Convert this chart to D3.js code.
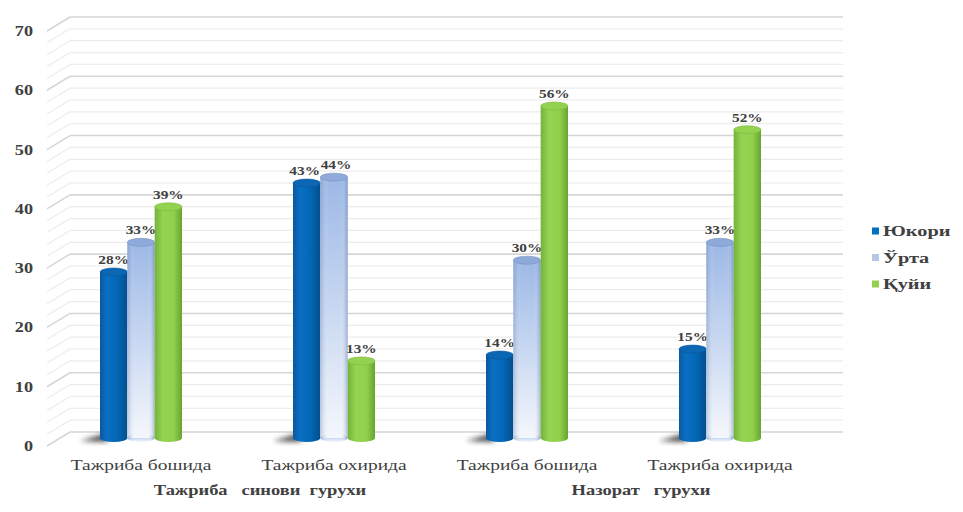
<!DOCTYPE html>
<html lang="uz"><head>
<meta charset="UTF-8">
<script src="https://cdn.jsdelivr.net/npm/d3@7"></script>
<title>Тажриба</title>
<style>
  body { margin: 0; background: #fff; }
  text { font-family: "Liberation Serif", "DejaVu Serif", serif; fill: #404040; }
</style>
</head>
<body>
<svg id="vis" width="963" height="512"></svg>
<script>
// данные
var categories = ["Тажриба бошида", "Тажриба охирида", "Тажриба бошида", "Тажриба охирида"];
var groups = ["Тажриба   синови  гурухи", "Назорат   гурухи"];
var seriesNames = ["Юкори", "Ўрта", "Қуйи"];
var high = [28, 43, 14, 15];
var middle = [33, 44, 30, 33];
var low = [39, 13, 56, 52];
var yTicks = [0, 10, 20, 30, 40, 50, 60, 70];

var values = [high, middle, low];

var svg = d3.select("#vis");
var defs = svg.append("defs");

// the picture's text is stretched sideways, so each label gets a scaleX
function wideText(parent, px, py, sx, anchor) {
  return parent.append("g")
    .attr("transform", "translate(" + px + "," + py + ") scale(" + sx + ",1)")
    .append("text").attr("text-anchor", anchor || "middle");
}

// depth of the 3d box
var dx = 23, dy = 14;

var y = d3.scaleLinear().domain([0, 70]).range([432, 17]);   // back wall
var yFront = d3.scaleLinear().domain([0, 70]).range([432 + dy, 17 + dy]);
var x = d3.scaleBand().domain(d3.range(categories.length)).range([44.5, 816.5]);
var xs = d3.scaleBand().domain(d3.range(seriesNames.length)).range([-41, 41]);

// gradients
function hGrad(id, stops) {
  var g = defs.append("linearGradient").attr("id", id).attr("x1", 0).attr("x2", 1).attr("y1", 0).attr("y2", 0);
  stops.forEach(function(s) { g.append("stop").attr("offset", s[0]).attr("stop-color", s[1]); });
}
hGrad("gBlue", [[0, "#0a58a0"], [0.25, "#0a6fc2"], [0.6, "#0468b8"], [1, "#034f8e"]]);
hGrad("gGreen", [[0, "#74b23a"], [0.3, "#94d452"], [0.7, "#90d04c"], [1, "#67a330"]]);
hGrad("gLightEdge", [[0, "rgba(90,120,170,0.35)"], [0.3, "rgba(255,255,255,0)"], [0.75, "rgba(255,255,255,0)"], [1, "rgba(80,110,160,0.45)"]]);
var lg = defs.append("linearGradient").attr("id", "gLight").attr("x1", 0).attr("x2", 0).attr("y1", 0).attr("y2", 1);
lg.append("stop").attr("offset", 0).attr("stop-color", "#9cb8e6");
lg.append("stop").attr("offset", 1).attr("stop-color", "#f4f7fc");
var blur = defs.append("filter").attr("id", "shadow").attr("x", "-50%").attr("y", "-50%").attr("width", "200%").attr("height", "200%");
blur.append("feGaussianBlur").attr("stdDeviation", 2.5);

var fills = ["url(#gBlue)", "url(#gLight)", "url(#gGreen)"];
var topFills = ["#0b66b4", "#8eaadb", "#93d24f"];

// grid
var grid = svg.append("g");
var gridVals = d3.range(0, 71, 2);
gridVals.forEach(function(v) {
  var major = v % 10 === 0;
  var c = major ? "#d6d6d6" : "#ececec";
  grid.append("line")
    .attr("x1", 70).attr("x2", 843).attr("y1", y(v)).attr("y2", y(v))
    .attr("stroke", c).attr("stroke-width", major ? 1.6 : 1.2);
  grid.append("line")
    .attr("x1", 70 - dx).attr("x2", 70).attr("y1", yFront(v)).attr("y2", y(v))
    .attr("stroke", c).attr("stroke-width", major ? 1.6 : 1.2);
});

// y axis labels at the front edge
var gy = svg.append("g");
yTicks.forEach(function(t) {
  wideText(gy, 33, yFront(t) + 5, 1.3, "end")
    .attr("font-size", 14).attr("font-weight", "bold").text(t);
});

// bars
var ry = 4;
var base = y(0) + dy / 2 - 1;
var gBars = svg.append("g");
categories.forEach(function(c, i) {
  var cx = x(i) + x.bandwidth() / 2;
  var w = xs.bandwidth();
  // shadow at base, left of the first bar
  gBars.append("path")
    .attr("d", "M" + (cx + xs(0) - 20) + "," + (base + 3) +
               " L" + (cx + xs(0) + 4) + "," + (base - 4) +
               " L" + (cx + xs(0) + 8) + "," + (base + 4) + " Z")
    .attr("fill", "#222").attr("opacity", 0.8)
    .attr("filter", "url(#shadow)");
  seriesNames.forEach(function(s, j) {
    var v = values[j][i];
    var x0 = cx + xs(j);
    var top = base - (y(0) - y(v));
    var g = gBars.append("g");
    g.append("ellipse").attr("cx", x0 + w / 2).attr("cy", base).attr("rx", w / 2).attr("ry", ry)
      .attr("fill", fills[j]);
    g.append("rect").attr("x", x0).attr("y", top).attr("width", w).attr("height", base - top)
      .attr("fill", fills[j]);
    if (j === 1) {
      g.append("ellipse").attr("cx", x0 + w / 2).attr("cy", base).attr("rx", w / 2).attr("ry", ry)
        .attr("fill", "url(#gLightEdge)");
      g.append("rect").attr("x", x0).attr("y", top).attr("width", w).attr("height", base - top)
        .attr("fill", "url(#gLightEdge)");
    }
    g.append("ellipse").attr("cx", x0 + w / 2).attr("cy", top).attr("rx", w / 2).attr("ry", ry)
      .attr("fill", topFills[j]).attr("stroke", d3.color(topFills[j]).darker(0.4)).attr("stroke-width", 0.6);
    // the two close labels of the second group are nudged apart like in the picture
    var nudge = (i === 1 && j < 2) ? (j === 0 ? -2 : 2) : 0;
    wideText(gBars, x0 + w / 2 + nudge, top - 8, 1.18)
      .attr("font-size", 13).attr("font-weight", "bold")
      .text(v + "%");
  });
  wideText(svg, cx, 470, 1.3).attr("font-size", 15).text(c);
});

// group titles
var groupX = [260, 641];
groups.forEach(function(gname, k) {
  wideText(svg, groupX[k], 495, 1.32)
    .attr("font-size", 14).attr("font-weight", "bold")
    .attr("xml:space", "preserve").style("white-space", "pre")
    .text(gname);
});

// legend
var legendColors = ["#0070c0", "#b4c7e7", "#92d050"];
var legend = svg.append("g").attr("transform", "translate(872,231)");
seriesNames.forEach(function(s, j) {
  var row = legend.append("g").attr("transform", "translate(0," + (j * 26.5) + ")");
  row.append("rect").attr("x", 0).attr("y", -3.5).attr("width", 7).attr("height", 7).attr("fill", legendColors[j]);
  wideText(row, 11, 5, 1.45, "start").attr("font-size", 14).attr("font-weight", "bold").text(s);
});
</script>
</body></html>
